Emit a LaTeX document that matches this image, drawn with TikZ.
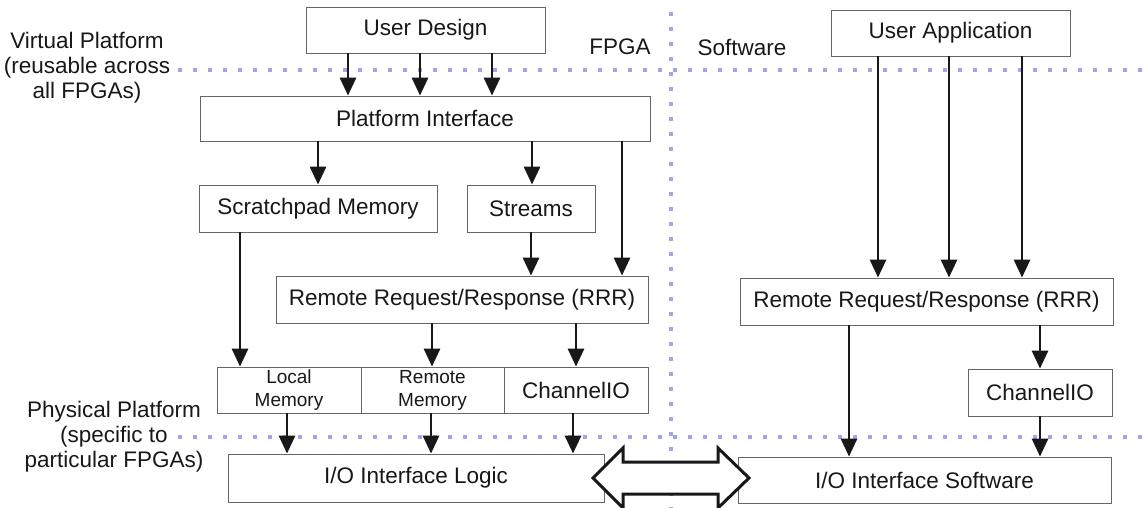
\documentclass[tikz,border=0pt]{standalone}
\usepackage{fontspec}
\setmainfont{Liberation Sans}
\usetikzlibrary{arrows.meta}
\definecolor{dotblue}{RGB}{160,166,230}
\definecolor{ink}{RGB}{24,24,24}
\begin{document}
\begin{tikzpicture}[x=1pt,y=-1pt,
  box/.style={draw=black!60, line width=0.8pt, fill=white, inner sep=0pt,
    text=ink, font=\fontsize{22.5}{26}\selectfont},
  smallbox/.style={box, align=center, font=\fontsize{19}{23}\selectfont},
  arr/.style={draw=ink, line width=2.9pt, -{Triangle[length=18pt,width=16pt]}},
  sep/.style={dotblue, line width=4.5pt, dash pattern=on 4pt off 11pt},
  lbl/.style={text=ink, align=center, font=\fontsize{22.5}{25}\selectfont}]
\useasboundingbox (0,0) rectangle (1146,508);

% dotted separators between the platform layers and between FPGA / software
\draw[sep] (178,70) -- (1146,70);
\draw[sep] (178,437) -- (1146,437);
\draw[sep] (671,12) -- (671,508);

% side labels
\node[lbl] (vp) at (87,68) {Virtual Platform\\(reusable across\\all FPGAs)};
\node[lbl] (pp) at (114,437) {Physical Platform\\(specific to\\particular FPGAs)};
\node[lbl] (fpga) at (620,47) {FPGA};
\node[lbl] (sw) at (742,47) {Software};

% FPGA side
\node[box, minimum width=239pt, minimum height=46pt] (ud) at (425.5,30) {User Design};
\node[box, minimum width=450pt, minimum height=45pt] (pi) at (425,118.5) {Platform Interface};
\node[box, minimum width=238pt, minimum height=47pt] (sm) at (318,208.5) {Scratchpad Memory};
\node[box, minimum width=128pt, minimum height=47pt] (st) at (531,208.5) {Streams};
\node[box, minimum width=372pt, minimum height=47pt] (rrrL) at (462,299.5) {Remote Request/Response (RRR)};
\node[smallbox, minimum width=144pt, minimum height=46pt] (lm) at (289,390) {Local\\Memory};
\node[smallbox, minimum width=143pt, minimum height=46pt] (rm) at (432.5,390) {Remote\\Memory};
\node[box, minimum width=144pt, minimum height=46pt] (chL) at (576,390) {ChannelIO};
\node[box, minimum width=376pt, minimum height=48pt] (iol) at (416,478) {I/O Interface Logic};

% software side
\node[box, minimum width=239pt, minimum height=46pt] (ua) at (950.5,33) {User Application};
\node[box, minimum width=373pt, minimum height=47pt] (rrrR) at (926.5,301.5) {Remote Request/Response (RRR)};
\node[box, minimum width=144pt, minimum height=47pt] (chR) at (1040,392.5) {ChannelIO};
\node[box, minimum width=373pt, minimum height=46pt] (ios) at (924.5,480) {I/O Interface Software};

% FPGA side connectors
\draw[arr] (348,0 |- ud.south) -- (348,0 |- pi.north);
\draw[arr] (420,0 |- ud.south) -- (420,0 |- pi.north);
\draw[arr] (492,0 |- ud.south) -- (492,0 |- pi.north);
\draw[arr] (318,0 |- pi.south) -- (318,0 |- sm.north);
\draw[arr] (532,0 |- pi.south) -- (532,0 |- st.north);
\draw[arr] (622,0 |- pi.south) -- (622,0 |- rrrL.north);
\draw[arr] (531,0 |- st.south) -- (531,0 |- rrrL.north);
\draw[arr] (240,0 |- sm.south) -- (240,0 |- lm.north);
\draw[arr] (432,0 |- rrrL.south) -- (432,0 |- rm.north);
\draw[arr] (576,0 |- rrrL.south) -- (576,0 |- chL.north);
\draw[arr] (287,0 |- lm.south) -- (287,0 |- iol.north);
\draw[arr] (431,0 |- rm.south) -- (431,0 |- iol.north);
\draw[arr] (573,0 |- chL.south) -- (573,0 |- iol.north);

% software side connectors
\draw[arr] (878,0 |- ua.south) -- (878,0 |- rrrR.north);
\draw[arr] (949,0 |- ua.south) -- (949,0 |- rrrR.north);
\draw[arr] (1022,0 |- ua.south) -- (1022,0 |- rrrR.north);
\draw[arr] (849,0 |- rrrR.south) -- (849,0 |- ios.north);
\draw[arr] (1040,0 |- rrrR.south) -- (1040,0 |- chR.north);
\draw[arr] (1040,0 |- chR.south) -- (1040,0 |- ios.north);

% hollow double arrow linking the hardware and software I/O layers
\draw[ink, line width=3pt, fill=white, line join=miter]
  (593,478) -- (623,448) -- (623,462) -- (718,462) -- (718,448) -- (749,478)
  -- (718,508) -- (718,494) -- (623,494) -- (623,508) -- cycle;
\end{tikzpicture}
\end{document}
